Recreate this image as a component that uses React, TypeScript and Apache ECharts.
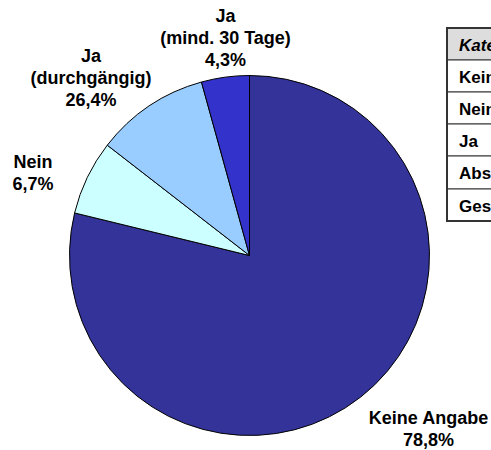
import React, { useEffect, useRef } from 'react';
import * as echarts from 'echarts';

// Slice sizes (as drawn) and labels (as printed in the reference)
const categories = ['Keine Angabe', 'Nein', 'Ja (durchgängig)', 'Ja (mind. 30 Tage)'];
const labelLines = [['Keine Angabe'], ['Nein'], ['Ja', '(durchgängig)'], ['Ja', '(mind. 30 Tage)']];
const sliceValues = [78.8, 6.7, 10.2, 4.3];
const labelPercents = ['78,8%', '6,7%', '26,4%', '4,3%'];
const sliceColors = ['#333399', '#CCFFFF', '#99CCFF', '#3333CC'];

// Table (clipped at the right edge in the reference)
const tableRows = ['Kategorie', 'Keine Angabe', 'Nein', 'Ja', 'Absolut', 'Gesamt'];

const FONT = 'Arial, "Liberation Sans", sans-serif';
const labelPos: [number, number][] = [
  [428.5, 428.5],
  [33, 172.5],
  [91, 78],
  [225.5, 37.5],
];

export default function App() {
  const ref = useRef<HTMLDivElement>(null);
  useEffect(() => {
    if (!ref.current) return;
    const chart = echarts.init(ref.current, null, { renderer: 'svg' });

    const tableX = 447;
    const tableW = 200;
    const rowTops = [28, 60, 92, 124, 156, 189];
    const rowH = [32, 32, 32, 32, 33, 32];
    const tableGraphics: any[] = [];
    tableRows.forEach((t, i) => {
      tableGraphics.push({
        type: 'rect',
        shape: { x: tableX, y: rowTops[i], width: tableW, height: rowH[i] },
        style: { fill: i === 0 ? '#DDDDDD' : '#FFFFFF', stroke: '#333333', lineWidth: 1 },
        z: 10,
      });
      tableGraphics.push({
        type: 'text',
        x: tableX + 12,
        y: rowTops[i] + rowH[i] / 2 + 1,
        style: {
          text: t,
          fill: '#000000',
          font: `${i === 0 ? 'italic ' : ''}bold 17px ${FONT}`,
          verticalAlign: 'middle',
          align: 'left',
        },
        z: 11,
      });
    });
    tableGraphics.push({
      type: 'rect',
      shape: { x: tableX, y: rowTops[0], width: tableW, height: rowTops[5] + rowH[5] - rowTops[0] },
      style: { fill: 'none', stroke: '#333333', lineWidth: 2 },
      z: 12,
    });

    chart.setOption({
      animation: false,
      backgroundColor: '#FFFFFF',
      graphic: tableGraphics,
      series: [
        {
          type: 'pie',
          center: [249.5, 255.5],
          radius: 180,
          startAngle: 90,
          clockwise: true,
          avoidLabelOverlap: false,
          itemStyle: { borderColor: '#000000', borderWidth: 1 },
          labelLine: { show: false },
          label: {
            show: true,
            position: 'outside',
            color: '#000000',
            fontFamily: FONT,
            fontWeight: 'bold',
            fontSize: 18,
            lineHeight: 22,
            align: 'center',
            formatter: (p: any) => [...labelLines[p.dataIndex], labelPercents[p.dataIndex]].join('\n'),
          },
          labelLayout: (p: any) => {
            const pos = labelPos[p.dataIndex];
            return { x: pos[0], y: pos[1], align: 'center', verticalAlign: 'middle' };
          },
          emphasis: { disabled: true },
          data: categories.map((c, i) => ({
            name: c,
            value: sliceValues[i],
            itemStyle: { color: sliceColors[i] },
          })),
        },
      ],
    });
    return () => chart.dispose();
  }, []);
  return (
    <div
      ref={ref}
      style={{ position: 'fixed', left: 0, top: 0, width: 491, height: 450, background: '#fff' }}
    />
  );
}
